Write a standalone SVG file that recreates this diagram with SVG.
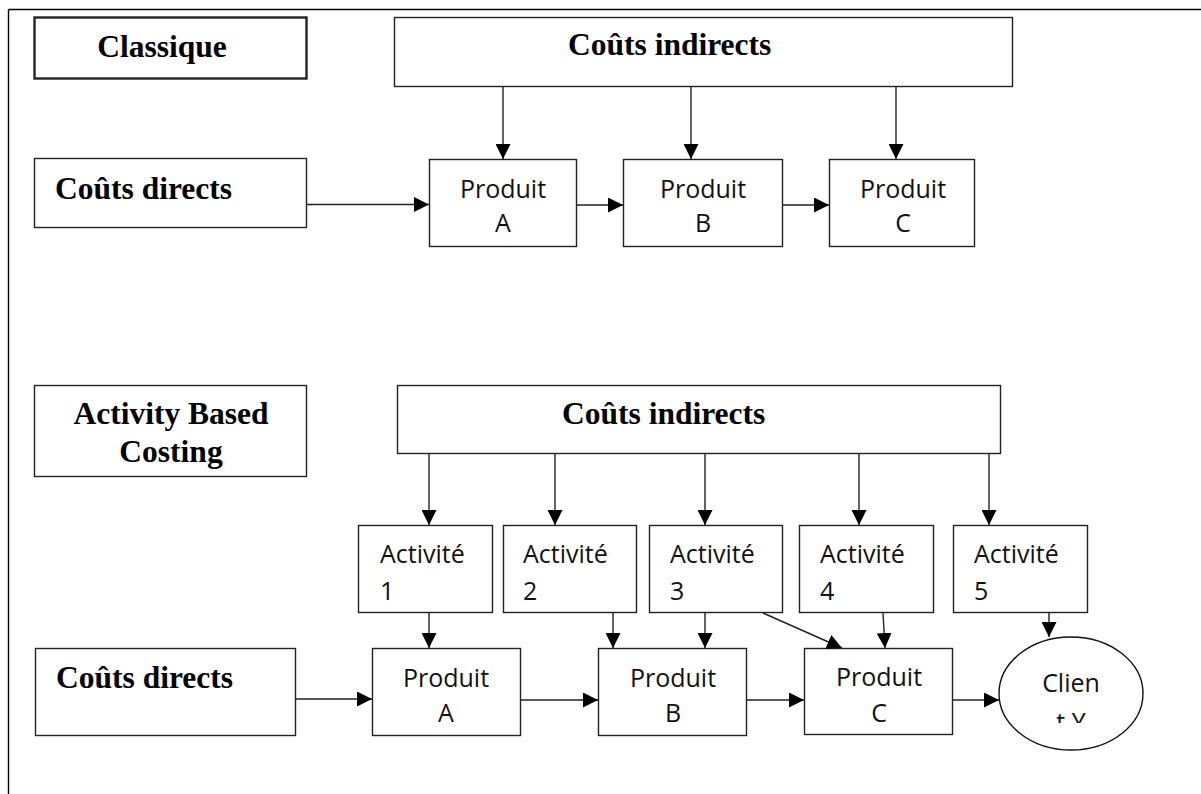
<svg xmlns="http://www.w3.org/2000/svg" width="1201" height="794" viewBox="0 0 1201 794">
  <style>
    .box { fill: #fff; stroke: #222; stroke-width: 1.4; }
    .thick { stroke-width: 2.4; }
    .title { font-family: "Liberation Serif", "Times New Roman", serif; font-weight: bold; font-size: 31.5px; fill: #000; }
    .lbl { font-family: "Open Sans", "Noto Sans", sans-serif; font-size: 25px; fill: #111; }
    .mid { text-anchor: middle; }
    .conn line { stroke: #222; stroke-width: 1.4; marker-end: url(#arrow); }
  </style>
  <defs>
    <marker id="arrow" markerUnits="userSpaceOnUse" markerWidth="16" markerHeight="15" refX="15" refY="7.5" orient="auto">
      <path d="M0,0 L15,7.5 L0,15 z" fill="#000"/>
    </marker>
    <clipPath id="clientClip">
      <rect x="990" y="630" width="160" height="93"/>
    </clipPath>
  </defs>
  <rect width="1201" height="794" fill="#fff"/>

  <!-- page frame -->
  <g id="frame" fill="none" stroke="#000" stroke-width="1.4">
    <line x1="8.5" y1="9.5" x2="1201" y2="9.5"/>
    <line x1="8.5" y1="9.5" x2="8.5" y2="794"/>
  </g>

  <!-- ===== Classic costing ===== -->
  <g id="classique">
    <rect class="box thick" x="34.5" y="17.5" width="272" height="61"/>
    <text class="title mid" x="162" y="57">Classique</text>
  </g>
  <g id="indirects-1">
    <rect class="box" x="394.5" y="17.5" width="618" height="69"/>
    <text class="title" x="568" y="55">Coûts indirects</text>
  </g>
  <g id="directs-1">
    <rect class="box" x="34.5" y="158.5" width="272" height="69"/>
    <text class="title" x="55" y="199">Coûts directs</text>
  </g>
  <g id="produit-a-1">
    <rect class="box" x="429.5" y="159.5" width="147" height="87"/>
    <text class="lbl mid" x="503" y="198">Produit</text>
    <text class="lbl mid" x="503" y="232">A</text>
  </g>
  <g id="produit-b-1">
    <rect class="box" x="623.5" y="159.5" width="159" height="87"/>
    <text class="lbl mid" x="703" y="198">Produit</text>
    <text class="lbl mid" x="703" y="232">B</text>
  </g>
  <g id="produit-c-1">
    <rect class="box" x="829.5" y="159.5" width="145" height="87"/>
    <text class="lbl mid" x="903" y="198">Produit</text>
    <text class="lbl mid" x="903" y="232">C</text>
  </g>

  <!-- ===== Activity Based Costing ===== -->
  <g id="abc">
    <rect class="box" x="34.5" y="385.5" width="272" height="91"/>
    <text class="title mid" x="171" y="424">Activity Based</text>
    <text class="title mid" x="171" y="462">Costing</text>
  </g>
  <g id="indirects-2">
    <rect class="box" x="397.5" y="385.5" width="603" height="68"/>
    <text class="title" x="562" y="424">Coûts indirects</text>
  </g>
  <g id="activite-1">
    <rect class="box" x="358.5" y="525.5" width="134" height="87"/>
    <text class="lbl" x="380" y="563">Activité</text>
    <text class="lbl" x="380" y="600">1</text>
  </g>
  <g id="activite-2">
    <rect class="box" x="503.5" y="525.5" width="133" height="87"/>
    <text class="lbl" x="523" y="563">Activité</text>
    <text class="lbl" x="523" y="600">2</text>
  </g>
  <g id="activite-3">
    <rect class="box" x="649.5" y="525.5" width="133" height="87"/>
    <text class="lbl" x="670" y="563">Activité</text>
    <text class="lbl" x="670" y="600">3</text>
  </g>
  <g id="activite-4">
    <rect class="box" x="799.5" y="525.5" width="134" height="87"/>
    <text class="lbl" x="820" y="563">Activité</text>
    <text class="lbl" x="820" y="600">4</text>
  </g>
  <g id="activite-5">
    <rect class="box" x="953.5" y="525.5" width="134" height="87"/>
    <text class="lbl" x="974" y="563">Activité</text>
    <text class="lbl" x="974" y="600">5</text>
  </g>
  <g id="directs-2">
    <rect class="box" x="35.5" y="648.5" width="260" height="87"/>
    <text class="title" x="56" y="688">Coûts directs</text>
  </g>
  <g id="produit-a-2">
    <rect class="box" x="372.5" y="648.5" width="148" height="87" stroke="#555"/>
    <text class="lbl mid" x="446" y="687">Produit</text>
    <text class="lbl mid" x="446" y="722">A</text>
  </g>
  <g id="produit-b-2">
    <rect class="box" x="598.5" y="648.5" width="148" height="87"/>
    <text class="lbl mid" x="673" y="687">Produit</text>
    <text class="lbl mid" x="673" y="722">B</text>
  </g>
  <g id="produit-c-2">
    <rect class="box" x="804.5" y="648.5" width="148" height="86"/>
    <text class="lbl mid" x="879" y="686">Produit</text>
    <text class="lbl mid" x="879" y="722">C</text>
  </g>
  <g id="client-y">
    <ellipse cx="1071" cy="693.5" rx="72" ry="56.5" fill="#fff" stroke="#111" stroke-width="1.4"/>
    <text class="lbl mid" x="1071" y="692">Clien</text>
    <text class="lbl mid" x="1071" y="731" clip-path="url(#clientClip)">t Y</text>
  </g>

  <!-- connectors -->
  <g id="connectors" class="conn">
    <!-- classic -->
    <line x1="503" y1="87" x2="503" y2="159"/>
    <line x1="691" y1="87" x2="691" y2="159"/>
    <line x1="896" y1="87" x2="896" y2="159"/>
    <line x1="307" y1="204.5" x2="429" y2="204.5"/>
    <line x1="577" y1="205" x2="623" y2="205"/>
    <line x1="783" y1="205" x2="829" y2="205"/>
    <!-- ABC: indirect costs to activities -->
    <line x1="429" y1="454" x2="429" y2="525"/>
    <line x1="555" y1="454" x2="555" y2="525"/>
    <line x1="705" y1="454" x2="705" y2="525"/>
    <line x1="859" y1="454" x2="859" y2="525"/>
    <line x1="989" y1="454" x2="989" y2="525"/>
    <!-- activities to products / client -->
    <line x1="429" y1="613" x2="429" y2="648"/>
    <line x1="613" y1="613" x2="613" y2="648"/>
    <line x1="705" y1="613" x2="705" y2="648"/>
    <line x1="763" y1="613" x2="842" y2="648"/>
    <line x1="883" y1="613" x2="885" y2="648"/>
    <line x1="1049" y1="613" x2="1049" y2="637"/>
    <!-- direct costs flow -->
    <line x1="296" y1="699" x2="372" y2="699"/>
    <line x1="521" y1="700" x2="598" y2="700"/>
    <line x1="747" y1="700" x2="804" y2="700"/>
    <line x1="953" y1="700" x2="999" y2="700"/>
  </g>
</svg>
